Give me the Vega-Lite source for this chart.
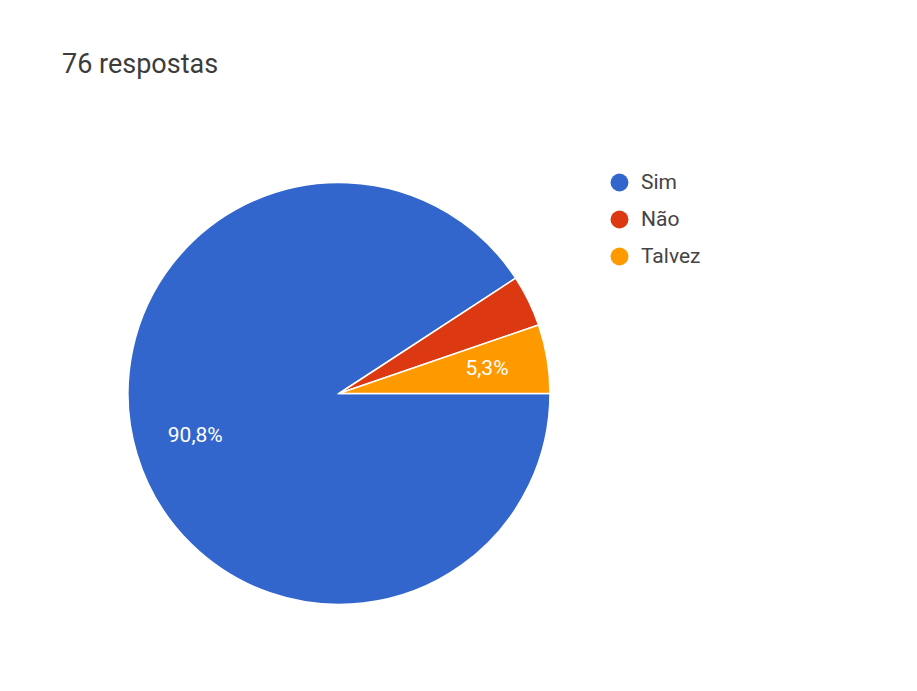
{
  "$schema": "https://vega.github.io/schema/vega-lite/v6.json",
  "width": 422,
  "height": 443,
  "padding": {"left": 62, "top": 51, "right": 10, "bottom": 10},
  "background": "white",
  "config": {"view": {"stroke": null}, "font": "Roboto"},
  "title": {
    "text": "76 respostas",
    "anchor": "start",
    "frame": "group",
    "dx": -66,
    "offset": 93,
    "fontSize": 27,
    "fontWeight": "normal",
    "color": "#3c3c3c",
    "font": "Roboto"
  },
  "data": {
    "values": [
      {"resposta": "Sim", "n": 69, "ord": 1, "label": "90,8%"},
      {"resposta": "Não", "n": 3, "ord": 2, "label": ""},
      {"resposta": "Talvez", "n": 4, "ord": 3, "label": "5,3%"}
    ]
  },
  "encoding": {
    "theta": {"field": "n", "type": "quantitative", "stack": true, "scale": {"range": [1.5708, 7.8540]}},
    "order": {"field": "ord", "type": "quantitative"}
  },
  "layer": [
    {
      "mark": {"type": "arc", "stroke": "white", "strokeWidth": 1.5},
      "encoding": {
        "color": {
          "field": "resposta",
          "type": "nominal",
          "sort": ["Sim", "Não", "Talvez"],
          "scale": {"domain": ["Sim", "Não", "Talvez"], "range": ["#3366cc", "#dc3912", "#ff9900"]},
          "legend": {
            "title": null,
            "orient": "right",
            "offset": 59,
            "symbolType": "circle",
            "symbolSize": 320,
            "symbolStrokeWidth": 0,
            "labelFontSize": 21,
            "labelColor": "#444444",
            "labelFont": "Roboto",
            "rowPadding": 15,
            "labelOffset": 11,
            "padding": 0
          }
        }
      }
    },
    {
      "mark": {"type": "text", "radius": 150, "fontSize": 21, "color": "white", "font": "Roboto"},
      "encoding": {"text": {"field": "label"}}
    }
  ]
}
